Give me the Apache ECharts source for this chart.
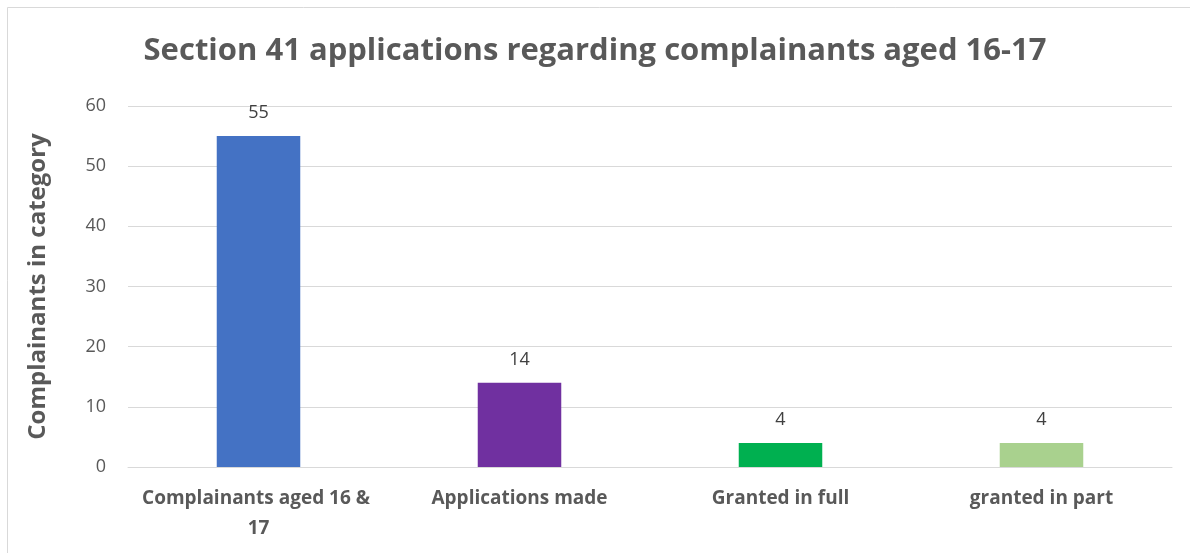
<!DOCTYPE html>
<html><head><meta charset="utf-8">
<script src="https://cdn.jsdelivr.net/npm/echarts@6/dist/echarts.min.js"></script>
<style>html,body{margin:0;padding:0;background:#fff}#c{width:1190px;height:553px}</style>
</head><body><div id="c"></div>
<script>
const categories = ['Complainants aged 16 & 17', 'Applications made', 'Granted in full', 'granted in part'];
const values = [55, 14, 4, 4];
const barColors = ['#4472C4', '#7030A0', '#00B050', '#A9D18E'];
const titleText = 'Section 41 applications regarding complainants aged 16-17';
const yAxisName = 'Complainants in category';

const chart = echarts.init(document.getElementById('c'));
const font = '"Open Sans", "Liberation Sans", sans-serif';
chart.setOption({
  animation: false,
  backgroundColor: '#fff',
  graphic: [{
    type: 'rect', shape: {x: 7.5, y: 7.5, width: 1200, height: 600},
    style: {fill: 'none', stroke: '#d9d9d9', lineWidth: 1}
  }],
  title: {
    text: titleText, left: 'center', top: 31,
    textStyle: {fontFamily: font, fontSize: 31, fontWeight: 'bold', color: '#595959'}
  },
  grid: {left: 128, right: 18, top: 106, bottom: 86},
  xAxis: {
    type: 'category', data: categories,
    axisLine: {lineStyle: {color: '#d9d9d9', width: 1}},
    axisTick: {show: false},
    axisLabel: {
      fontFamily: font, fontSize: 19, fontWeight: 'bold', color: '#595959',
      margin: 17, width: 250, overflow: 'break', interval: 0, lineHeight: 30
    }
  },
  yAxis: {
    type: 'value', min: 0, max: 60, interval: 10,
    name: yAxisName, nameLocation: 'middle', nameGap: 78,
    nameTextStyle: {fontFamily: font, fontSize: 24, fontWeight: 'bold', color: '#595959'},
    axisLine: {show: false}, axisTick: {show: false},
    splitLine: {lineStyle: {color: '#d9d9d9', width: 1}},
    axisLabel: {fontFamily: font, fontSize: 18, color: '#595959', margin: 22}
  },
  series: [{
    type: 'bar', barWidth: '32%',
    data: values.map((v, i) => ({value: v, itemStyle: {color: barColors[i]}})),
    label: {show: true, position: 'top', distance: 14, fontFamily: font, fontSize: 18, color: '#404040'}
  }]
});
</script></body></html>
